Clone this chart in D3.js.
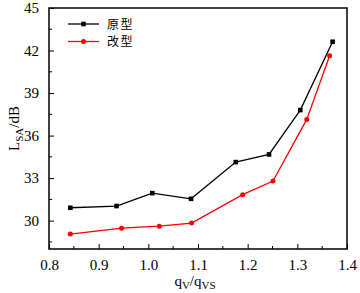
<!DOCTYPE html>
<html>
<head>
<meta charset="utf-8">
<script src="https://cdn.jsdelivr.net/npm/d3@7"></script>
<style>
  body { margin: 0; background: #fff; }
  text { font-family: "Liberation Serif", "Times New Roman", serif; fill: #000; }
  .cjk { font-family: "Noto Sans CJK SC", sans-serif; }
</style>
</head>
<body>
<div id="chart"></div>
<script>
// data
const flowRatio1 = [0.843, 0.936, 1.008, 1.086, 1.176, 1.243, 1.306, 1.371];
const levelOrig  = [30.91, 31.03, 31.94, 31.54, 34.13, 34.67, 37.80, 42.62];
const flowRatio2 = [0.843, 0.946, 1.022, 1.087, 1.190, 1.251, 1.319, 1.365];
const levelMod   = [29.05, 29.47, 29.61, 29.83, 31.83, 32.79, 37.14, 41.63];
const seriesNames = ["原型", "改型"];
const xTicks = [0.8, 0.9, 1.0, 1.1, 1.2, 1.3, 1.4];
const yTicks = [30, 33, 36, 39, 42, 45];

const width = 360, height = 293;
const margin = { top: 8, right: 13, bottom: 44, left: 49 };
const w = width - margin.left - margin.right;
const h = height - margin.top - margin.bottom;

const svg = d3.select("#chart").append("svg")
    .attr("width", width)
    .attr("height", height);

const g = svg.append("g")
    .attr("transform", "translate(" + margin.left + "," + margin.top + ")");

const xScale = d3.scaleLinear().domain([0.8, 1.4]).range([0, w]);
const yScale = d3.scaleLinear().domain([28, 45]).range([h, 0]);

// minor ticks
const xMinor = d3.range(0.85, 1.4, 0.1);
const yMinor = d3.range(28.5, 45, 1.5).filter(v => !yTicks.some(t => Math.abs(t - v) < 1e-6));

g.append("g").selectAll("line").data(xMinor).enter().append("line")
    .attr("x1", d => xScale(d)).attr("x2", d => xScale(d))
    .attr("y1", h).attr("y2", h - 3)
    .attr("stroke", "#000").attr("stroke-width", 1);
g.append("g").selectAll("line").data(yMinor).enter().append("line")
    .attr("y1", d => yScale(d)).attr("y2", d => yScale(d))
    .attr("x1", 0).attr("x2", 3)
    .attr("stroke", "#000").attr("stroke-width", 1);

// axes
const xAxis = d3.axisBottom(xScale).tickValues(xTicks).tickFormat(d3.format(".1f"))
    .tickSizeInner(-5).tickSizeOuter(0).tickPadding(10);
const yAxis = d3.axisLeft(yScale).tickValues(yTicks).tickFormat(d3.format("d"))
    .tickSizeInner(-5).tickSizeOuter(0).tickPadding(10);

const xAxisGroup = g.append("g")
    .attr("transform", "translate(0," + h + ")")
    .call(xAxis);
const yAxisGroup = g.append("g").call(yAxis);

[xAxisGroup, yAxisGroup].forEach(ax => {
  ax.attr("font-family", "Liberation Serif, serif").attr("font-size", 15);
  ax.select(".domain").remove();
  ax.selectAll("line").attr("stroke", "#000").attr("stroke-width", 1);
  ax.selectAll("text")
    .style("font-family", '"Liberation Serif", serif')
    .style("font-size", "15px")
    .attr("fill", "#000");
});

// frame
g.append("rect")
    .attr("width", w).attr("height", h)
    .attr("fill", "none").attr("stroke", "#000").attr("stroke-width", 1.5);

// lines
const line = d3.line().x(d => xScale(d[0])).y(d => yScale(d[1]));
const series = [
  { name: seriesNames[0], color: "#000", pts: d3.zip(flowRatio1, levelOrig), square: true },
  { name: seriesNames[1], color: "#ff0000", pts: d3.zip(flowRatio2, levelMod), square: false }
];

series.forEach(s => {
  g.append("path").datum(s.pts)
    .attr("d", line)
    .attr("fill", "none").attr("stroke", s.color).attr("stroke-width", 1.3);
  if (s.square) {
    g.selectAll(null).data(s.pts).enter().append("rect")
      .attr("x", d => xScale(d[0]) - 2.3).attr("y", d => yScale(d[1]) - 2.3)
      .attr("width", 4.6).attr("height", 4.6).attr("fill", s.color);
  } else {
    g.selectAll(null).data(s.pts).enter().append("circle")
      .attr("cx", d => xScale(d[0])).attr("cy", d => yScale(d[1]))
      .attr("r", 2.5).attr("fill", s.color);
  }
});

// legend
const legend = g.append("g").attr("transform", "translate(19,16)");
series.forEach((s, i) => {
  const row = legend.append("g").attr("transform", "translate(0," + (i * 17.5) + ")");
  row.append("line").attr("x1", 0).attr("x2", 31).attr("y1", 0).attr("y2", 0)
    .attr("stroke", s.color).attr("stroke-width", 1.3);
  if (s.square) {
    row.append("rect").attr("x", 13.2).attr("y", -2.3).attr("width", 4.6).attr("height", 4.6).attr("fill", s.color);
  } else {
    row.append("circle").attr("cx", 15.5).attr("cy", 0).attr("r", 2.5).attr("fill", s.color);
  }
  row.append("text").attr("class", "cjk")
    .attr("x", 39).attr("y", 4.5)
    .style("font-size", "12px")
    .style("letter-spacing", "1.5px")
    .text(s.name);
});

// y label
const yLabel = svg.append("text")
    .attr("transform", "translate(19," + (margin.top + h / 2) + ") rotate(-90)")
    .attr("text-anchor", "middle")
    .style("font-size", "15px");
yLabel.append("tspan").text("L");
yLabel.append("tspan").attr("dy", 4).style("font-size", "11px").text("SA");
yLabel.append("tspan").attr("dy", -4).text("/dB");

// x label
const xLabel = svg.append("text")
    .attr("x", margin.left + w / 2 - 3)
    .attr("y", 286)
    .attr("text-anchor", "middle")
    .style("font-size", "15px");
xLabel.append("tspan").text("q");
xLabel.append("tspan").attr("dy", 3).style("font-size", "11px").text("V");
xLabel.append("tspan").attr("dy", -3).text("/q");
xLabel.append("tspan").attr("dy", 3).style("font-size", "11px").text("VS");
</script>
</body>
</html>
